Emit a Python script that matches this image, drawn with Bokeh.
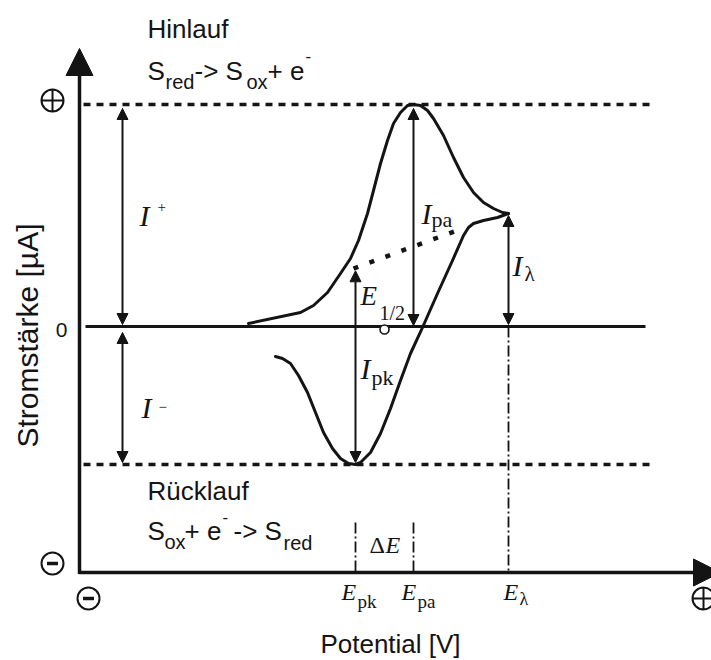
import numpy as np
from bokeh.plotting import figure
from bokeh.models import Range1d, Arrow, NormalHead
from bokeh.core.properties import value
from bokeh.embed import file_html
from bokeh.resources import INLINE

# ---- cyclic voltammogram (schematic) -------------------------------------
# forward (anodic) scan: potential in mV, current in µA
E_fwd = [169, 221, 234, 248, 261, 271, 279, 288, 294, 301, 308, 314, 321,
         328, 334, 341, 348, 354, 364, 374, 384, 394, 404, 414, 423, 429]
I_fwd = [0.3, 1.4, 2.1, 3.4, 5.3, 6.8, 8.6, 11.3, 13.6, 16.3, 18.6, 20.3, 21.4,
         22.1, 22.2, 22.1, 21.6, 20.8, 19.1, 16.9, 14.9, 13.4, 12.4, 11.8, 11.4, 11.3]
# reverse (cathodic) scan, starting at the switching potential
E_rev = [429, 418, 404, 394, 389, 384, 373, 358, 343, 331, 321, 311, 301,
         291, 281, 276, 269, 261, 253, 244, 236, 228, 219, 211, 203, 196]
I_rev = [11.3, 10.9, 10.6, 10.3, 9.9, 9.1, 6.6, 3.3, -0.1, -2.7, -5.4, -8.2, -10.7,
         -12.6, -13.6, -13.8, -13.7, -13.2, -12.2, -10.6, -8.6, -6.6, -4.9, -3.7, -3.2, -3.0]
# extrapolated baseline under the anodic peak
E_base = [274, 383]
I_base = [5.8, 9.8]

zero_label = "0"
x_title = "Potential [V]"
y_title = "Stromstärke [µA]"

# characteristic points derived from the curves
i_pa = int(np.argmax(I_fwd))
E_pa, I_pa = E_fwd[i_pa], I_fwd[i_pa]
i_pk = int(np.argmin(I_rev))
E_pk, I_pk = E_rev[i_pk], I_rev[i_pk]
E_lam, I_lam = E_fwd[-1], I_fwd[-1]
E_half = (E_pa + E_pk) / 2
I_base_pk = float(np.interp(E_pk, E_base, I_base))

# ---- canvas geometry ------------------------------------------------------
W, H = 711, 660
X0, Y0 = 79, 326          # screen position of E = 0 and I = 0
PX_PER_MV, PX_PER_UA = 1.0, 10.0


def ex(px):
    return (px - X0) / PX_PER_MV


def iy(py):
    return (Y0 - py) / PX_PER_UA


INK = "#141414"
SANS = "Liberation Sans"
SERIF = "Liberation Serif"

p = figure(width=W, height=H, x_range=Range1d(ex(0), ex(W)), y_range=Range1d(iy(H), iy(0)),
           output_backend="svg", toolbar_location=None, x_axis_type=None, y_axis_type=None,
           min_border=0)
p.outline_line_color = None
p.background_fill_color = "white"
p.border_fill_color = "white"

E_axis = ex(X0)            # vertical axis position
I_axis = iy(572)           # horizontal axis position
E_end = ex(655)            # right end of the dashed guide lines

# guide lines: peak levels and zero current
p.line([ex(83), E_end], [I_pa, I_pa], line_color=INK, line_width=3.5, line_dash="7 6")
p.line([ex(83), E_end], [I_pk, I_pk], line_color=INK, line_width=3.5, line_dash="7 6")
p.line([ex(85), ex(645)], [0, 0], line_color=INK, line_width=3)

# dash-dotted potential markers
dd = dict(line_color=INK, line_width=1.8, line_dash="11 3 2 3")
p.line([E_lam, E_lam], [0, I_axis], **dd)
p.line([E_pk, E_pk], [iy(522), I_axis], **dd)
p.line([E_pa, E_pa], [iy(522), I_axis], **dd)

# voltammogram
p.line(E_fwd, I_fwd, line_color=INK, line_width=3, line_join="round", line_cap="round")
p.line(E_rev, I_rev, line_color=INK, line_width=3, line_join="round", line_cap="round")
p.line(E_base, I_base, line_color=INK, line_width=4.5, line_dash="5 12")

# half-wave potential marker
p.scatter([E_half], [-0.3], marker="circle", size=9, fill_color="white",
          line_color=INK, line_width=1.6)

# axes with arrow heads
p.add_layout(Arrow(end=NormalHead(size=27, fill_color=INK, line_color=INK),
                   x_start=E_axis, y_start=iy(573.5), x_end=E_axis, y_end=iy(48),
                   line_color=INK, line_width=3.5))
p.add_layout(Arrow(end=NormalHead(size=27, fill_color=INK, line_color=INK),
                   x_start=E_axis - 0.5, y_start=I_axis, x_end=ex(720), y_end=I_axis,
                   line_color=INK, line_width=3.5))


def darrow(x, y0, y1):
    head = dict(size=11, fill_color=INK, line_color=INK)
    p.add_layout(Arrow(start=NormalHead(**head), end=NormalHead(**head),
                       x_start=x, y_start=y0, x_end=x, y_end=y1,
                       line_color=INK, line_width=2))


darrow(ex(122), 0.2, I_pa - 0.4)          # I+
darrow(ex(122), -0.6, I_pk + 0.2)         # I-
darrow(E_pa, 0.1, I_pa - 0.4)             # I_pa
darrow(E_pk, I_pk + 0.2, I_base_pk - 0.3)  # I_pk / E_1/2
darrow(E_lam, 0.2, I_lam - 0.2)           # I_lambda

# circled sign symbols
p.scatter([ex(52), ex(703)], [iy(100), iy(598)], marker="circle_cross", size=22,
          fill_color="white", line_color=INK, line_width=2)
p.scatter([ex(52), ex(88)], [iy(563), iy(598)], marker="circle", size=22,
          fill_color="white", line_color=INK, line_width=2)
p.scatter([ex(52), ex(88)], [iy(563), iy(598)], marker="dash", size=11,
          line_color=INK, line_width=3.5)


def txt(px, py, s, size, font=SANS, style="normal", align="left", angle=0.0):
    """Place text by its baseline (py); drawn centred on the em box."""
    k = 0.35 if font == SANS else 0.34
    if angle:
        x, y = px - k * size, py
    else:
        x, y = px, py - k * size
    p.text(x=[ex(x)], y=[iy(y)], text=[s], text_font=value(font),
           text_font_size=f"{size}px", text_font_style=style, text_align=align,
           text_baseline="middle", angle=angle, text_color=INK)


# scan direction captions
txt(147, 38, "Hinlauf", 26)
txt(147, 80, "S", 26)
txt(165, 88, "red", 20)
txt(194, 80, "-> S", 26)
txt(246, 88, "ox", 20)
txt(267, 80, "+ e", 26)
txt(305, 61, "-", 17)

txt(147, 500, "Rücklauf", 26)
txt(147, 540, "S", 26)
txt(164, 548, "ox", 20)
txt(184, 540, "+ e", 26)
txt(222, 522, "-", 17)
txt(233, 540, "-> S", 26)
txt(283, 549, "red", 20)

# current symbols
txt(139, 225, "I", 30, SERIF, "italic")
txt(157, 212, "+", 15, SERIF)
txt(141, 417, "I", 30, SERIF, "italic")
txt(158, 412, "−", 15, SERIF)
txt(421, 223, "I", 30, SERIF, "italic")
txt(431, 226, "pa", 22, SERIF)
txt(360, 378, "I", 30, SERIF, "italic")
txt(371, 384, "pk", 22, SERIF)
txt(512, 275, "I", 30, SERIF, "italic")
txt(524, 281, "λ", 21, SERIF)
txt(360, 305, "E", 27, SERIF, "italic")
txt(379, 319, "1/2", 20, SERIF)

# potential symbols
txt(369, 553, "Δ", 24, SERIF)
txt(385, 553, "E", 24, SERIF, "italic")
txt(341, 600, "E", 24, SERIF, "italic")
txt(357, 607, "pk", 19, SERIF)
txt(401, 600, "E", 24, SERIF, "italic")
txt(417, 607, "pa", 19, SERIF)
txt(503, 600, "E", 24, SERIF, "italic")
txt(519, 605, "λ", 18, SERIF)

# axis texts
txt(61, 337, zero_label, 21, align="center")
txt(390, 653, x_title, 26, align="center")
txt(37, 335, y_title, 30, align="center", angle=np.pi / 2)

open("out.html", "w").write(file_html(p, INLINE))
